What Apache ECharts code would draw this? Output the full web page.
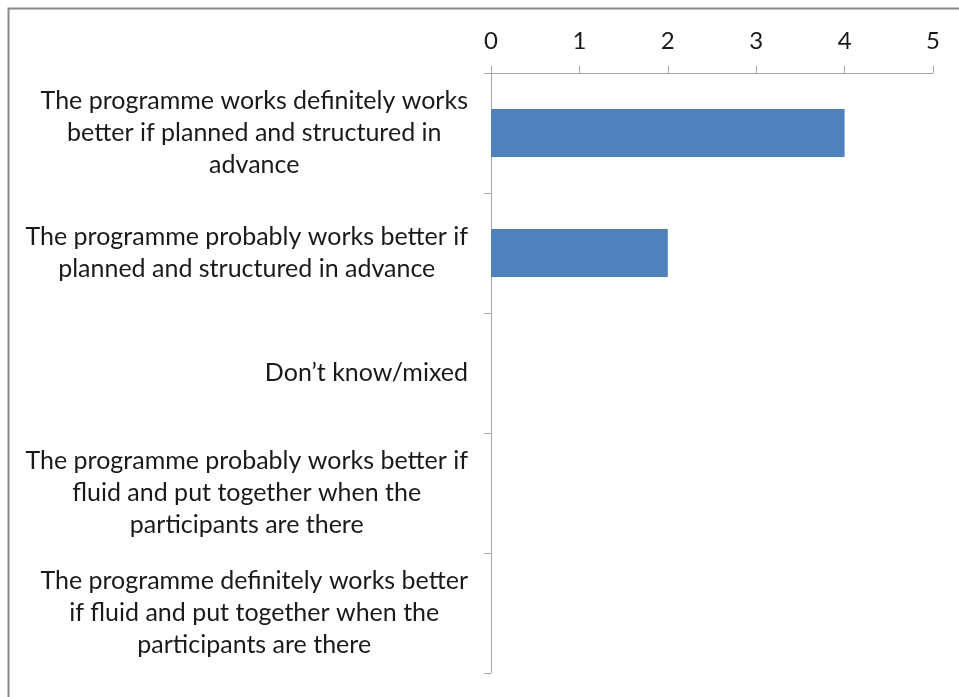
<!DOCTYPE html>
<html>
<head>
<meta charset="utf-8">
<script src="https://cdn.jsdelivr.net/npm/echarts@6/dist/echarts.min.js"></script>
<style>
html,body{margin:0;padding:0;background:#fff;}
#chart{width:959px;height:697px;}
</style>
</head>
<body>
<div id="chart"></div>
<script>
var categories = [
  "The programme works definitely works\nbetter if planned and structured in\nadvance",
  "The programme probably works better if\nplanned and structured in advance",
  "Don\u2019t know/mixed",
  "The programme probably works better if\nfluid and put together when the\nparticipants are there",
  "The programme definitely works better\nif fluid and put together when the\nparticipants are there"
];
var values = [4, 2, 0, 0, 0];
var tickMin = 0, tickMax = 5, tickStep = 1;

var FONT = 'Lato';
var chart = echarts.init(document.getElementById('chart'), null, {renderer: 'canvas'});
chart.setOption({
  backgroundColor: '#ffffff',
  animation: false,
  grid: {left: 491, right: 26, top: 73, bottom: 24, containLabel: false},
  xAxis: {
    type: 'value', position: 'top', min: tickMin, max: tickMax, interval: tickStep,
    splitLine: {show: false},
    axisLine: {show: true, lineStyle: {color: '#a6a6a6', width: 1}},
    axisTick: {show: true, length: 7, lineStyle: {color: '#a6a6a6'}},
    axisLabel: {margin: 20, color: '#1a1a1a', fontSize: 24, fontFamily: FONT}
  },
  yAxis: {
    type: 'category', inverse: true, data: categories,
    axisLine: {show: true, lineStyle: {color: '#a6a6a6', width: 1}},
    axisTick: {show: true, length: 7, alignWithLabel: false, lineStyle: {color: '#a6a6a6'}},
    axisLabel: {
      margin: 23, color: '#1a1a1a', fontSize: 25, fontFamily: FONT,
      formatter: function (v) {
        return v.split('\n').map(function (l) { return '{c|' + l + '}'; }).join('\n');
      },
      rich: {c: {align: 'center', fontSize: 25, fontFamily: FONT, lineHeight: 32, color: '#1a1a1a'}}
    }
  },
  series: [{
    type: 'bar', data: values, barCategoryGap: '60%',
    itemStyle: {color: '#4f81bd', borderWidth: 0}
  }],
  graphic: [{
    type: 'rect', left: 6, top: 6, silent: true,
    shape: {x: 0, y: 0, width: 1200, height: 1000},
    style: {fill: null, stroke: '#878787', lineWidth: 2}
  }]
});
</script>
</body>
</html>
